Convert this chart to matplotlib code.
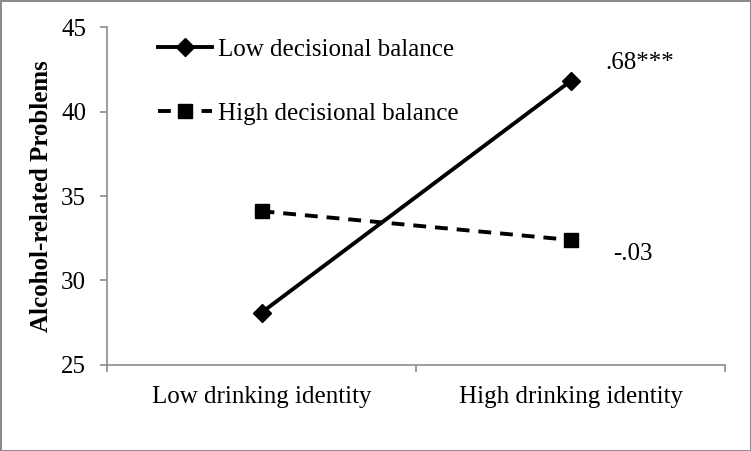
import matplotlib
matplotlib.use("Agg")
import matplotlib.pyplot as plt

categories = ["Low drinking identity", "High drinking identity"]
low_db = [28.1, 41.8]
high_db = [34.1, 32.4]
series_labels = ["Low decisional balance", "High decisional balance"]
slope_labels = [".68***", "-.03"]
y_ticks = [25, 30, 35, 40, 45]

plt.rcParams['font.family'] = ['Liberation Serif', 'DejaVu Serif']
FS = 18

fig = plt.figure(figsize=(7.51, 4.51), dpi=100, facecolor='white',
                 edgecolor='#8c8c8c', linewidth=2)
ax = fig.add_axes([0.1425, 0.1907, 0.823, 0.7494])

x = [0, 1]
ax.plot(x, low_db, color='black', lw=2.8, marker='D', markersize=9.5,
        label=series_labels[0])
ax.plot(x, high_db, color='black', lw=2.8, linestyle=(0, (3.3, 2.3)),
        marker='s', markersize=10.5, label=series_labels[1])

ax.set_xlim(-0.5, 1.5)
ax.set_ylim(25, 45)
ax.set_yticks(y_ticks)
ax.set_xticks([-0.5, 0.5, 1.5])
ax.set_xticklabels([])
ax.set_xticks(x, minor=True)
ax.set_xticklabels(categories, minor=True)
ax.tick_params(axis='x', which='minor', length=0, pad=15, labelsize=FS)
ax.tick_params(axis='x', which='major', length=5, color='#8c8c8c', width=1.2)
ax.tick_params(axis='y', length=5, color='#8c8c8c', width=1.2, labelsize=FS, pad=10)

for s in ['top', 'right']:
    ax.spines[s].set_visible(False)
for s in ['left', 'bottom']:
    ax.spines[s].set_color('#8c8c8c')
    ax.spines[s].set_linewidth(1.2)

ax.set_ylabel("Alcohol-related Problems", fontsize=FS, fontweight='bold', labelpad=6)

ax.text(1.225, 42.9, slope_labels[0], fontsize=FS, ha='center', va='center')
ax.text(1.2, 31.55, slope_labels[1], fontsize=FS, ha='center', va='center')

leg = ax.legend(loc='upper left', bbox_to_anchor=(0.0825, 0.967), frameon=False,
                fontsize=FS, handlelength=2.15, handletextpad=0.24, labelspacing=1.66,
                borderpad=0, borderaxespad=0)

fig.savefig("out.png", dpi=100, facecolor='white', edgecolor='#8c8c8c')
